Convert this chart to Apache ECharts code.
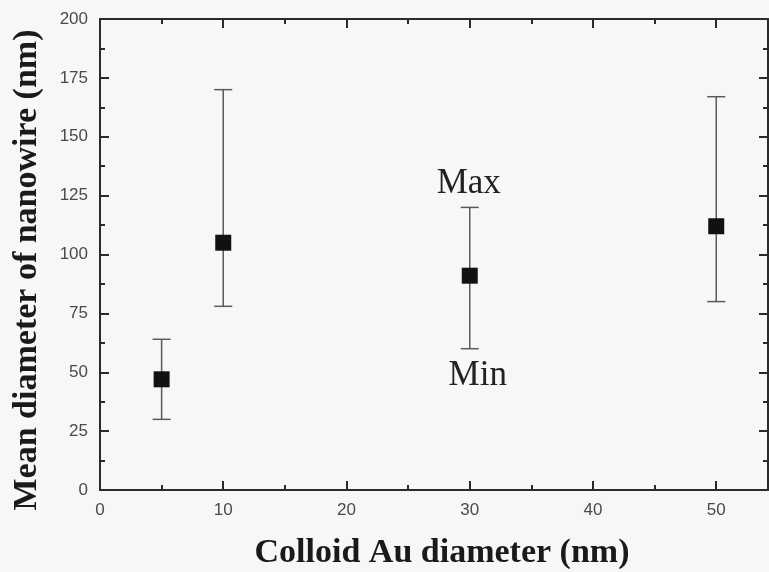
<!DOCTYPE html>
<html>
<head>
<meta charset="utf-8">
<script src="https://cdn.jsdelivr.net/npm/echarts@6/dist/echarts.min.js"></script>
<style>
  html, body { margin: 0; padding: 0; background: #f7f7f5; }
  #chart { width: 769px; height: 572px; }
</style>
</head>
<body>
<div id="chart"></div>
<script>
// Colloid Au particle size versus resulting nanowire diameter
const colloidSize = [5, 10, 30, 50];          // nm
const meanDiameter = [47, 105, 91, 112];      // nm
const maxDiameter = [64, 170, 120, 167];      // nm
const minDiameter = [30, 78, 60, 80];         // nm
const rangeLabels = ['Max', 'Min'];           // annotation of the range
const annotatedIndex = 2;                     // point whose range is labelled
const xTitle = 'Colloid Au diameter (nm)';
const yTitle = 'Mean diameter of nanowire (nm)';

const serifBold = '"Liberation Serif", "Times New Roman", serif';
const sans = '"Liberation Sans", Arial, sans-serif';
const frameColor = '#2b2b2b';

const errorData = colloidSize.map((x, i) => [x, minDiameter[i], maxDiameter[i], i]);
const pointData = colloidSize.map((x, i) => [x, meanDiameter[i]]);

function frameAxis(extra) {
  return Object.assign({
    type: 'value',
    axisLine: { show: true, onZero: false, lineStyle: { color: frameColor, width: 2 } },
    axisTick: { show: true, inside: true, length: 9, lineStyle: { color: frameColor, width: 2 } },
    minorTick: { show: true, splitNumber: 2, length: 5, lineStyle: { color: frameColor, width: 2 } },
    splitLine: { show: false },
    minorSplitLine: { show: false }
  }, extra);
}

const chart = echarts.init(document.getElementById('chart'), null, { renderer: 'canvas' });

chart.setOption({
  backgroundColor: '#f7f7f5',
  animation: false,
  grid: { left: 100, right: 1, top: 19, bottom: 82 },
  graphic: [
    {
      // rotated y-axis title
      type: 'text',
      x: 27, y: 270, rotation: Math.PI / 2,
      style: {
        text: yTitle, align: 'center', verticalAlign: 'middle',
        font: 'bold 34px "Liberation Serif", "Times New Roman", serif', fill: '#1a1a1a'
      }
    },
    {
      type: 'text',
      x: 442, y: 553,
      style: {
        text: xTitle, align: 'center', verticalAlign: 'middle',
        font: 'bold 34px "Liberation Serif", "Times New Roman", serif', fill: '#1a1a1a'
      }
    }
  ],
  xAxis: [
    frameAxis({
      position: 'bottom', min: 0, max: 54.2, interval: 10,
      axisLabel: {
        show: true, margin: 12, fontFamily: sans, fontSize: 17, color: '#4a4a4a',
        showMaxLabel: false,
        formatter: v => (v % 10 === 0 ? String(v) : '')
      }
    }),
    frameAxis({
      position: 'top', min: 0, max: 54.2, interval: 10,
      axisLabel: { show: false }
    })
  ],
  yAxis: [
    frameAxis({
      position: 'left', min: 0, max: 200, interval: 25,
      axisLabel: { show: true, margin: 12, fontFamily: sans, fontSize: 17, color: '#4a4a4a' }
    }),
    frameAxis({
      position: 'right', min: 0, max: 200, interval: 25,
      axisLabel: { show: false }
    })
  ],
  series: [
    {
      // min–max range of each sample with end caps
      type: 'custom',
      xAxisIndex: 0, yAxisIndex: 0,
      data: errorData,
      encode: { x: 0, y: [1, 2] },
      renderItem: function (params, api) {
        const x = api.value(0);
        const lo = api.coord([x, api.value(1)]);
        const hi = api.coord([x, api.value(2)]);
        const idx = api.value(3);
        const cap = 9;
        const style = { stroke: '#5a5a5a', lineWidth: 1.5 };
        const children = [
          { type: 'line', shape: { x1: hi[0], y1: hi[1], x2: lo[0], y2: lo[1] }, style: style },
          { type: 'line', shape: { x1: hi[0] - cap, y1: hi[1], x2: hi[0] + cap, y2: hi[1] }, style: style },
          { type: 'line', shape: { x1: lo[0] - cap, y1: lo[1], x2: lo[0] + cap, y2: lo[1] }, style: style }
        ];
        if (idx === annotatedIndex) {
          const font = '35px "Liberation Serif", "Times New Roman", serif';
          children.push({
            type: 'text',
            style: { text: rangeLabels[0], x: hi[0] - 1, y: hi[1] - 6, align: 'center', verticalAlign: 'bottom', font: font, fill: '#222' }
          });
          children.push({
            type: 'text',
            style: { text: rangeLabels[1], x: lo[0] + 8, y: lo[1] + 10, align: 'center', verticalAlign: 'top', font: font, fill: '#222' }
          });
        }
        return { type: 'group', children: children };
      },
      z: 2
    },
    {
      type: 'scatter',
      data: pointData,
      symbol: 'rect',
      symbolSize: 16,
      itemStyle: { color: '#111111', opacity: 1 },
      z: 3
    }
  ]
});
</script>
</body>
</html>
